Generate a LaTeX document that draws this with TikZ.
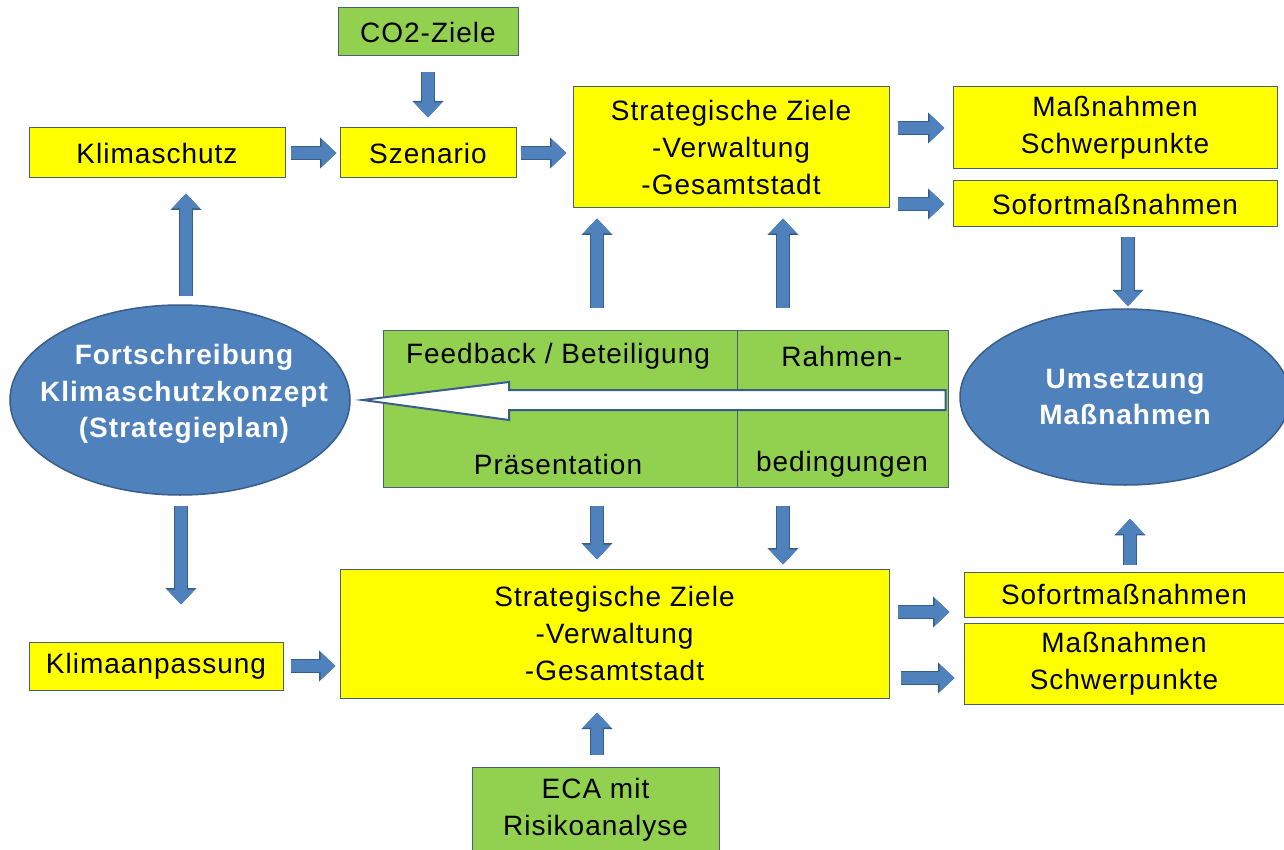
\documentclass[tikz,border=0pt]{standalone}
\usepackage{fontspec}
\setmainfont[LetterSpace=3.6]{Liberation Sans}
\usetikzlibrary{arrows.meta,calc,shapes.geometric}
\definecolor{yfill}{HTML}{FFFF00}
\definecolor{gfill}{HTML}{92D050}
\definecolor{bfill}{HTML}{4F81BD}
\definecolor{bline}{HTML}{385D8A}
\definecolor{boxline}{HTML}{4A5E78}
\begin{document}
\begin{tikzpicture}[x=1pt,y=-1pt,
  every node/.style={font=\fontsize{28}{37}\selectfont, align=center, inner sep=0pt},
  yellowbox/.style={draw=boxline, line width=1pt, fill=yfill},
  greenbox/.style={draw=boxline, line width=1pt, fill=gfill},
  blueell/.style={ellipse, draw=bline, line width=1.5pt, fill=bfill},
  elltext/.style={text=white, font=\fontsize{28}{36.5}\selectfont\bfseries},
  barrow/.style={line width=12pt, draw=bfill, -{Triangle[width=27pt,length=15pt]},
    preaction={draw=bline, line width=14.5pt, -{Triangle[width=30pt,length=16.5pt]}}},
  hollow/.style={draw=bline, line width=2pt, fill=white, line join=miter}
]
\useasboundingbox (0,0) rectangle (1284,850);
\clip (0,0) rectangle (1284,850);

% nodes
\node[greenbox, minimum width=180pt, minimum height=48pt] (co2) at (428,32) {CO2-Ziele};
\node[yellowbox, minimum width=256pt, minimum height=50pt] (ks) at (157,153) {Klimaschutz};
\node[yellowbox, minimum width=176pt, minimum height=50pt] (szen) at (428,153) {Szenario};
\node[yellowbox, minimum width=316pt, minimum height=121pt] (sz1) at (731,147.5) {Strategische Ziele\\-Verwaltung\\-Gesamtstadt};
\node[yellowbox, minimum width=324pt, minimum height=82pt] (mass1) at (1115,128) {Maßnahmen\\Schwerpunkte};
\node[yellowbox, minimum width=324pt, minimum height=46pt] (sof1) at (1115,204) {Sofortmaßnahmen};

\node[blueell, minimum width=340pt, minimum height=190pt] (ellL) at (180,400) {};
\node[elltext] (ellLt) at (184,394) {Fortschreibung\\Klimaschutzkonzept\\(Strategieplan)};
\node[blueell, minimum width=330pt, minimum height=176pt] (umset) at (1125,397) {};
\node[elltext] (umsett) at (1125,397) {Umsetzung\\Maßnahmen};

\node[greenbox, minimum width=565pt, minimum height=157pt] (green) at (665.5,408.5) {};
\draw[boxline, line width=1pt] (737,0 |- green.north) -- (737,0 |- green.south);
\node (fb) at (558,356) {Feedback / Beteiligung};
\node (pr) at (558,464) {Präsentation};
\node (ra) at (842,356) {Rahmen-};
\node (bd) at (842,464) {bedingungen};

\node[yellowbox, minimum width=549pt, minimum height=129pt] (sz2) at (614.5,633.5) {Strategische Ziele\\-Verwaltung\\-Gesamtstadt};
\node[yellowbox, minimum width=254pt, minimum height=48pt] (ka) at (156,666) {Klimaanpassung};
\node[yellowbox, minimum width=320pt, minimum height=45pt] (sof2) at (1124,594.5) {Sofortmaßnahmen};
\node[yellowbox, minimum width=320pt, minimum height=81pt] (mass2) at (1124,663.5) {Maßnahmen\\Schwerpunkte};
\node[greenbox, minimum width=247pt, minimum height=86pt] (eca) at (595.5,810) {ECA mit\\Risikoanalyse};

% hollow arrow from the green box to the left ellipse
\draw[hollow] ($(green.east)+(-3,-18.5)$) -- (509,390) -- (509,382) -- ($(ellL.east)+(12,0)$)
  -- (509,420) -- (509,410) -- ($(green.east)+(-3,1.5)$) -- cycle;

% block arrows
\draw[barrow] ([yshift=-16pt]co2.south) -- ([yshift=10pt]szen.north);
\draw[barrow] ([xshift=5pt]ks.east) -- ([xshift=-3pt]szen.west);
\draw[barrow] ([xshift=4pt]szen.east) -- ($(szen.east -| sz1.west)+(-6,0)$);
\draw[barrow] ($(mass1.west -| sz1.east)+(8,0)$) -- ($(mass1.west)+(-8,0)$);
\draw[barrow] ($(sof1.west -| sz1.east)+(8,0)$) -- ($(sof1.west)+(-8,0)$);
\draw[barrow] ($(umset.north |- sof1.south)+(3,10)$) -- ($(umset.north)+(3,-2)$);
\draw[barrow] ($(ellL.north)+(6,-8)$) -- ($(ellL.north |- ks.south)+(6,15)$);
\draw[barrow] ($(ellL.south)+(1,10)$) -- ($(ellL.south |- ka.north)+(1,-37)$);
\draw[barrow] ($(597,0 |- green.north)+(0,-22)$) -- ($(597,0 |- sz1.south)+(0,10)$);
\draw[barrow] ($(783,0 |- green.north)+(0,-22)$) -- ($(783,0 |- sz1.south)+(0,10)$);
\draw[barrow] ($(597,0 |- green.south)+(0,18)$) -- ($(597,0 |- sz2.north)+(0,-9)$);
\draw[barrow] ($(783,0 |- green.south)+(0,18)$) -- ($(783,0 |- sz2.north)+(0,-4)$);
\draw[barrow] ([xshift=7pt]ka.east) -- ($(ka.east -| sz2.west)+(-4,0)$);
\draw[barrow] ($(sof2.west -| sz2.east)+(8,17.5)$) -- ($(sof2.west)+(-14,17.5)$);
\draw[barrow] ($(mass2.west -| sz2.east)+(11,14.5)$) -- ($(mass2.west)+(-9,14.5)$);
\draw[barrow] ($(umset.south |- sof2.north)+(5,-7)$) -- ($(umset.south)+(5,33)$);
\draw[barrow] ($(eca.north)+(1.5,-12)$) -- ($(eca.north |- sz2.south)+(1.5,14)$);
\end{tikzpicture}
\end{document}
